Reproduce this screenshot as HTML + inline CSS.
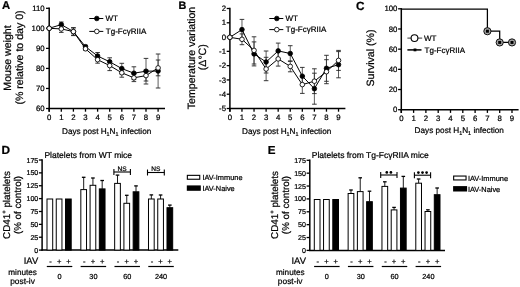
<!DOCTYPE html>
<html><head><meta charset="utf-8"><style>
html,body{margin:0;padding:0;background:#fff;}
svg{display:block;will-change:transform;filter:blur(0.3px);}
text{font-family:"Liberation Sans", sans-serif;fill:#000;stroke:#000;stroke-width:0.22px;text-rendering:geometricPrecision;}
</style></head><body>
<svg width="520" height="287" viewBox="0 0 520 287">
<rect x="0" y="0" width="520" height="287" fill="#fff"/>
<text x="2.00" y="9.00" font-size="11.3" text-anchor="start" font-weight="bold">A</text>
<text x="178.60" y="8.80" font-size="10.8" text-anchor="start" font-weight="bold">B</text>
<text x="356.00" y="9.70" font-size="11.8" text-anchor="start" font-weight="bold">C</text>
<text x="1.50" y="154.00" font-size="11.8" text-anchor="start" font-weight="bold">D</text>
<text x="267.80" y="154.00" font-size="11.6" text-anchor="start" font-weight="bold">E</text>
<line x1="49.20" y1="7.60" x2="49.20" y2="111.70" stroke="#000" stroke-width="1.5"/>
<line x1="48.50" y1="108.50" x2="165.00" y2="108.50" stroke="#000" stroke-width="1.5"/>
<line x1="46.00" y1="8.30" x2="49.20" y2="8.30" stroke="#000" stroke-width="1.3"/>
<text x="44.60" y="11.00" font-size="7.8" text-anchor="end" font-weight="normal">110</text>
<line x1="46.00" y1="28.34" x2="49.20" y2="28.34" stroke="#000" stroke-width="1.3"/>
<text x="44.60" y="31.04" font-size="7.8" text-anchor="end" font-weight="normal">100</text>
<line x1="46.00" y1="48.38" x2="49.20" y2="48.38" stroke="#000" stroke-width="1.3"/>
<text x="44.60" y="51.08" font-size="7.8" text-anchor="end" font-weight="normal">90</text>
<line x1="46.00" y1="68.42" x2="49.20" y2="68.42" stroke="#000" stroke-width="1.3"/>
<text x="44.60" y="71.12" font-size="7.8" text-anchor="end" font-weight="normal">80</text>
<line x1="46.00" y1="88.46" x2="49.20" y2="88.46" stroke="#000" stroke-width="1.3"/>
<text x="44.60" y="91.16" font-size="7.8" text-anchor="end" font-weight="normal">70</text>
<line x1="46.00" y1="108.50" x2="49.20" y2="108.50" stroke="#000" stroke-width="1.3"/>
<text x="44.60" y="111.20" font-size="7.8" text-anchor="end" font-weight="normal">60</text>
<line x1="49.20" y1="108.50" x2="49.20" y2="111.70" stroke="#000" stroke-width="1.3"/>
<text x="49.20" y="120.00" font-size="7.8" text-anchor="middle" font-weight="normal">0</text>
<line x1="61.30" y1="108.50" x2="61.30" y2="111.70" stroke="#000" stroke-width="1.3"/>
<text x="61.30" y="120.00" font-size="7.8" text-anchor="middle" font-weight="normal">1</text>
<line x1="73.40" y1="108.50" x2="73.40" y2="111.70" stroke="#000" stroke-width="1.3"/>
<text x="73.40" y="120.00" font-size="7.8" text-anchor="middle" font-weight="normal">2</text>
<line x1="85.50" y1="108.50" x2="85.50" y2="111.70" stroke="#000" stroke-width="1.3"/>
<text x="85.50" y="120.00" font-size="7.8" text-anchor="middle" font-weight="normal">3</text>
<line x1="97.60" y1="108.50" x2="97.60" y2="111.70" stroke="#000" stroke-width="1.3"/>
<text x="97.60" y="120.00" font-size="7.8" text-anchor="middle" font-weight="normal">4</text>
<line x1="109.70" y1="108.50" x2="109.70" y2="111.70" stroke="#000" stroke-width="1.3"/>
<text x="109.70" y="120.00" font-size="7.8" text-anchor="middle" font-weight="normal">5</text>
<line x1="121.80" y1="108.50" x2="121.80" y2="111.70" stroke="#000" stroke-width="1.3"/>
<text x="121.80" y="120.00" font-size="7.8" text-anchor="middle" font-weight="normal">6</text>
<line x1="133.90" y1="108.50" x2="133.90" y2="111.70" stroke="#000" stroke-width="1.3"/>
<text x="133.90" y="120.00" font-size="7.8" text-anchor="middle" font-weight="normal">7</text>
<line x1="146.00" y1="108.50" x2="146.00" y2="111.70" stroke="#000" stroke-width="1.3"/>
<text x="146.00" y="120.00" font-size="7.8" text-anchor="middle" font-weight="normal">8</text>
<line x1="158.10" y1="108.50" x2="158.10" y2="111.70" stroke="#000" stroke-width="1.3"/>
<text x="158.10" y="120.00" font-size="7.8" text-anchor="middle" font-weight="normal">9</text>
<text x="62.00" y="133.60" font-size="8.2" text-anchor="start" font-weight="normal">Days post H<tspan font-size="5.4" dy="2.0">1</tspan><tspan dy="-2.0">N</tspan><tspan font-size="5.4" dy="2.0">1</tspan><tspan dy="-2.0"> infection</tspan></text>
<text x="11.40" y="58.00" font-size="10.6" text-anchor="middle" font-weight="normal" transform="rotate(-90 11.40 58.00)">Mouse weight</text>
<text x="23.40" y="57.50" font-size="10.6" text-anchor="middle" font-weight="normal" transform="rotate(-90 23.40 57.50)">(% relative to day 0)</text>
<line x1="61.30" y1="22.00" x2="61.30" y2="27.20" stroke="#333" stroke-width="0.8"/>
<line x1="59.00" y1="22.00" x2="63.60" y2="22.00" stroke="#222" stroke-width="0.9"/>
<line x1="59.00" y1="27.20" x2="63.60" y2="27.20" stroke="#222" stroke-width="0.9"/>
<line x1="61.30" y1="25.40" x2="61.30" y2="32.40" stroke="#333" stroke-width="0.8"/>
<line x1="59.00" y1="25.40" x2="63.60" y2="25.40" stroke="#222" stroke-width="0.9"/>
<line x1="59.00" y1="32.40" x2="63.60" y2="32.40" stroke="#222" stroke-width="0.9"/>
<line x1="73.40" y1="27.60" x2="73.40" y2="35.60" stroke="#333" stroke-width="0.8"/>
<line x1="71.10" y1="27.60" x2="75.70" y2="27.60" stroke="#222" stroke-width="0.9"/>
<line x1="71.10" y1="35.60" x2="75.70" y2="35.60" stroke="#222" stroke-width="0.9"/>
<line x1="73.40" y1="28.00" x2="73.40" y2="35.20" stroke="#333" stroke-width="0.8"/>
<line x1="71.10" y1="28.00" x2="75.70" y2="28.00" stroke="#222" stroke-width="0.9"/>
<line x1="71.10" y1="35.20" x2="75.70" y2="35.20" stroke="#222" stroke-width="0.9"/>
<line x1="85.50" y1="45.20" x2="85.50" y2="48.20" stroke="#333" stroke-width="0.8"/>
<line x1="83.20" y1="45.20" x2="87.80" y2="45.20" stroke="#222" stroke-width="0.9"/>
<line x1="83.20" y1="48.20" x2="87.80" y2="48.20" stroke="#222" stroke-width="0.9"/>
<line x1="85.50" y1="47.30" x2="85.50" y2="50.30" stroke="#333" stroke-width="0.8"/>
<line x1="83.20" y1="47.30" x2="87.80" y2="47.30" stroke="#222" stroke-width="0.9"/>
<line x1="83.20" y1="50.30" x2="87.80" y2="50.30" stroke="#222" stroke-width="0.9"/>
<line x1="97.60" y1="52.50" x2="97.60" y2="59.50" stroke="#333" stroke-width="0.8"/>
<line x1="95.30" y1="52.50" x2="99.90" y2="52.50" stroke="#222" stroke-width="0.9"/>
<line x1="95.30" y1="59.50" x2="99.90" y2="59.50" stroke="#222" stroke-width="0.9"/>
<line x1="97.60" y1="56.20" x2="97.60" y2="63.20" stroke="#333" stroke-width="0.8"/>
<line x1="95.30" y1="56.20" x2="99.90" y2="56.20" stroke="#222" stroke-width="0.9"/>
<line x1="95.30" y1="63.20" x2="99.90" y2="63.20" stroke="#222" stroke-width="0.9"/>
<line x1="109.70" y1="57.80" x2="109.70" y2="65.80" stroke="#333" stroke-width="0.8"/>
<line x1="107.40" y1="57.80" x2="112.00" y2="57.80" stroke="#222" stroke-width="0.9"/>
<line x1="107.40" y1="65.80" x2="112.00" y2="65.80" stroke="#222" stroke-width="0.9"/>
<line x1="109.70" y1="60.60" x2="109.70" y2="70.60" stroke="#333" stroke-width="0.8"/>
<line x1="107.40" y1="60.60" x2="112.00" y2="60.60" stroke="#222" stroke-width="0.9"/>
<line x1="107.40" y1="70.60" x2="112.00" y2="70.60" stroke="#222" stroke-width="0.9"/>
<line x1="121.80" y1="63.30" x2="121.80" y2="73.90" stroke="#333" stroke-width="0.8"/>
<line x1="119.50" y1="63.30" x2="124.10" y2="63.30" stroke="#222" stroke-width="0.9"/>
<line x1="119.50" y1="73.90" x2="124.10" y2="73.90" stroke="#222" stroke-width="0.9"/>
<line x1="121.80" y1="68.40" x2="121.80" y2="77.20" stroke="#333" stroke-width="0.8"/>
<line x1="119.50" y1="68.40" x2="124.10" y2="68.40" stroke="#222" stroke-width="0.9"/>
<line x1="119.50" y1="77.20" x2="124.10" y2="77.20" stroke="#222" stroke-width="0.9"/>
<line x1="133.90" y1="66.80" x2="133.90" y2="79.60" stroke="#333" stroke-width="0.8"/>
<line x1="131.60" y1="66.80" x2="136.20" y2="66.80" stroke="#222" stroke-width="0.9"/>
<line x1="131.60" y1="79.60" x2="136.20" y2="79.60" stroke="#222" stroke-width="0.9"/>
<line x1="133.90" y1="74.00" x2="133.90" y2="81.60" stroke="#333" stroke-width="0.8"/>
<line x1="131.60" y1="74.00" x2="136.20" y2="74.00" stroke="#222" stroke-width="0.9"/>
<line x1="131.60" y1="81.60" x2="136.20" y2="81.60" stroke="#222" stroke-width="0.9"/>
<line x1="146.00" y1="58.40" x2="146.00" y2="84.00" stroke="#333" stroke-width="0.8"/>
<line x1="143.70" y1="58.40" x2="148.30" y2="58.40" stroke="#222" stroke-width="0.9"/>
<line x1="143.70" y1="84.00" x2="148.30" y2="84.00" stroke="#222" stroke-width="0.9"/>
<line x1="146.00" y1="70.20" x2="146.00" y2="81.00" stroke="#333" stroke-width="0.8"/>
<line x1="143.70" y1="70.20" x2="148.30" y2="70.20" stroke="#222" stroke-width="0.9"/>
<line x1="143.70" y1="81.00" x2="148.30" y2="81.00" stroke="#222" stroke-width="0.9"/>
<line x1="158.10" y1="54.00" x2="158.10" y2="88.00" stroke="#333" stroke-width="0.8"/>
<line x1="155.80" y1="54.00" x2="160.40" y2="54.00" stroke="#222" stroke-width="0.9"/>
<line x1="155.80" y1="88.00" x2="160.40" y2="88.00" stroke="#222" stroke-width="0.9"/>
<line x1="158.10" y1="60.00" x2="158.10" y2="75.80" stroke="#333" stroke-width="0.8"/>
<line x1="155.80" y1="60.00" x2="160.40" y2="60.00" stroke="#222" stroke-width="0.9"/>
<line x1="155.80" y1="75.80" x2="160.40" y2="75.80" stroke="#222" stroke-width="0.9"/>
<polyline points="49.20,28.30 61.30,24.60 73.40,31.60 85.50,46.70 97.60,56.00 109.70,61.80 121.80,68.60 133.90,73.20 146.00,71.20 158.10,71.00" fill="none" stroke="#000" stroke-width="1.0" stroke-linejoin="miter"/>
<polyline points="49.20,28.30 61.30,28.90 73.40,31.60 85.50,48.80 97.60,59.70 109.70,65.60 121.80,72.80 133.90,77.80 146.00,75.60 158.10,67.90" fill="none" stroke="#000" stroke-width="1.0" stroke-linejoin="miter"/>
<circle cx="49.20" cy="28.30" r="2.3" fill="#000" stroke="#000" stroke-width="0.8"/>
<circle cx="61.30" cy="24.60" r="2.3" fill="#000" stroke="#000" stroke-width="0.8"/>
<circle cx="73.40" cy="31.60" r="2.3" fill="#000" stroke="#000" stroke-width="0.8"/>
<circle cx="85.50" cy="46.70" r="2.3" fill="#000" stroke="#000" stroke-width="0.8"/>
<circle cx="97.60" cy="56.00" r="2.3" fill="#000" stroke="#000" stroke-width="0.8"/>
<circle cx="109.70" cy="61.80" r="2.3" fill="#000" stroke="#000" stroke-width="0.8"/>
<circle cx="121.80" cy="68.60" r="2.3" fill="#000" stroke="#000" stroke-width="0.8"/>
<circle cx="133.90" cy="73.20" r="2.3" fill="#000" stroke="#000" stroke-width="0.8"/>
<circle cx="146.00" cy="71.20" r="2.3" fill="#000" stroke="#000" stroke-width="0.8"/>
<circle cx="158.10" cy="71.00" r="2.3" fill="#000" stroke="#000" stroke-width="0.8"/>
<circle cx="49.20" cy="28.30" r="2.3" fill="#fff" stroke="#000" stroke-width="0.85"/>
<circle cx="61.30" cy="28.90" r="2.3" fill="#fff" stroke="#000" stroke-width="0.85"/>
<circle cx="73.40" cy="31.60" r="2.3" fill="#fff" stroke="#000" stroke-width="0.85"/>
<circle cx="85.50" cy="48.80" r="2.3" fill="#fff" stroke="#000" stroke-width="0.85"/>
<circle cx="97.60" cy="59.70" r="2.3" fill="#fff" stroke="#000" stroke-width="0.85"/>
<circle cx="109.70" cy="65.60" r="2.3" fill="#fff" stroke="#000" stroke-width="0.85"/>
<circle cx="121.80" cy="72.80" r="2.3" fill="#fff" stroke="#000" stroke-width="0.85"/>
<circle cx="133.90" cy="77.80" r="2.3" fill="#fff" stroke="#000" stroke-width="0.85"/>
<circle cx="146.00" cy="75.60" r="2.3" fill="#fff" stroke="#000" stroke-width="0.85"/>
<circle cx="158.10" cy="67.90" r="2.3" fill="#fff" stroke="#000" stroke-width="0.85"/>
<line x1="89.30" y1="18.50" x2="103.30" y2="18.50" stroke="#000" stroke-width="1.0"/>
<circle cx="96.80" cy="18.50" r="2.3" fill="#000" stroke="#000" stroke-width="0.8"/>
<line x1="89.30" y1="31.40" x2="103.30" y2="31.40" stroke="#000" stroke-width="1.0"/>
<circle cx="96.80" cy="31.40" r="2.3" fill="#fff" stroke="#000" stroke-width="0.85"/>
<text x="105.50" y="21.20" font-size="8.0" text-anchor="start" font-weight="normal">WT</text>
<text x="105.80" y="34.10" font-size="8.0" text-anchor="start" font-weight="normal">Tg-Fc&#947;RIIA</text>
<line x1="229.90" y1="7.80" x2="229.90" y2="111.70" stroke="#000" stroke-width="1.5"/>
<line x1="229.20" y1="108.50" x2="345.40" y2="108.50" stroke="#000" stroke-width="1.5"/>
<line x1="226.70" y1="8.50" x2="229.90" y2="8.50" stroke="#000" stroke-width="1.3"/>
<text x="226.00" y="11.10" font-size="7.8" text-anchor="end" font-weight="normal">2</text>
<line x1="226.70" y1="22.79" x2="229.90" y2="22.79" stroke="#000" stroke-width="1.3"/>
<text x="226.00" y="25.39" font-size="7.8" text-anchor="end" font-weight="normal">1</text>
<line x1="226.70" y1="37.07" x2="229.90" y2="37.07" stroke="#000" stroke-width="1.3"/>
<text x="226.00" y="39.67" font-size="7.8" text-anchor="end" font-weight="normal">0</text>
<line x1="226.70" y1="51.36" x2="229.90" y2="51.36" stroke="#000" stroke-width="1.3"/>
<text x="226.00" y="53.96" font-size="7.8" text-anchor="end" font-weight="normal">-1</text>
<line x1="226.70" y1="65.64" x2="229.90" y2="65.64" stroke="#000" stroke-width="1.3"/>
<text x="226.00" y="68.24" font-size="7.8" text-anchor="end" font-weight="normal">-2</text>
<line x1="226.70" y1="79.93" x2="229.90" y2="79.93" stroke="#000" stroke-width="1.3"/>
<text x="226.00" y="82.53" font-size="7.8" text-anchor="end" font-weight="normal">-3</text>
<line x1="226.70" y1="94.21" x2="229.90" y2="94.21" stroke="#000" stroke-width="1.3"/>
<text x="226.00" y="96.81" font-size="7.8" text-anchor="end" font-weight="normal">-4</text>
<line x1="226.70" y1="108.50" x2="229.90" y2="108.50" stroke="#000" stroke-width="1.3"/>
<text x="226.00" y="111.10" font-size="7.8" text-anchor="end" font-weight="normal">-5</text>
<line x1="229.90" y1="108.50" x2="229.90" y2="111.70" stroke="#000" stroke-width="1.3"/>
<text x="229.90" y="120.00" font-size="7.8" text-anchor="middle" font-weight="normal">0</text>
<line x1="241.97" y1="108.50" x2="241.97" y2="111.70" stroke="#000" stroke-width="1.3"/>
<text x="241.97" y="120.00" font-size="7.8" text-anchor="middle" font-weight="normal">1</text>
<line x1="254.04" y1="108.50" x2="254.04" y2="111.70" stroke="#000" stroke-width="1.3"/>
<text x="254.04" y="120.00" font-size="7.8" text-anchor="middle" font-weight="normal">2</text>
<line x1="266.11" y1="108.50" x2="266.11" y2="111.70" stroke="#000" stroke-width="1.3"/>
<text x="266.11" y="120.00" font-size="7.8" text-anchor="middle" font-weight="normal">3</text>
<line x1="278.18" y1="108.50" x2="278.18" y2="111.70" stroke="#000" stroke-width="1.3"/>
<text x="278.18" y="120.00" font-size="7.8" text-anchor="middle" font-weight="normal">4</text>
<line x1="290.25" y1="108.50" x2="290.25" y2="111.70" stroke="#000" stroke-width="1.3"/>
<text x="290.25" y="120.00" font-size="7.8" text-anchor="middle" font-weight="normal">5</text>
<line x1="302.32" y1="108.50" x2="302.32" y2="111.70" stroke="#000" stroke-width="1.3"/>
<text x="302.32" y="120.00" font-size="7.8" text-anchor="middle" font-weight="normal">6</text>
<line x1="314.39" y1="108.50" x2="314.39" y2="111.70" stroke="#000" stroke-width="1.3"/>
<text x="314.39" y="120.00" font-size="7.8" text-anchor="middle" font-weight="normal">7</text>
<line x1="326.46" y1="108.50" x2="326.46" y2="111.70" stroke="#000" stroke-width="1.3"/>
<text x="326.46" y="120.00" font-size="7.8" text-anchor="middle" font-weight="normal">8</text>
<line x1="338.53" y1="108.50" x2="338.53" y2="111.70" stroke="#000" stroke-width="1.3"/>
<text x="338.53" y="120.00" font-size="7.8" text-anchor="middle" font-weight="normal">9</text>
<text x="242.00" y="133.60" font-size="8.2" text-anchor="start" font-weight="normal">Days post H<tspan font-size="5.4" dy="2.0">1</tspan><tspan dy="-2.0">N</tspan><tspan font-size="5.4" dy="2.0">1</tspan><tspan dy="-2.0"> infection</tspan></text>
<text x="194.70" y="58.00" font-size="10.6" text-anchor="middle" font-weight="normal" transform="rotate(-90 194.70 58.00)">Temperature variation</text>
<text x="206.00" y="57.20" font-size="10.6" text-anchor="middle" font-weight="normal" transform="rotate(-90 206.00 57.20)">(&#916;°C)</text>
<line x1="241.97" y1="19.40" x2="241.97" y2="39.80" stroke="#333" stroke-width="0.8"/>
<line x1="239.67" y1="19.40" x2="244.27" y2="19.40" stroke="#222" stroke-width="0.9"/>
<line x1="239.67" y1="39.80" x2="244.27" y2="39.80" stroke="#222" stroke-width="0.9"/>
<line x1="241.97" y1="33.90" x2="241.97" y2="44.70" stroke="#333" stroke-width="0.8"/>
<line x1="239.67" y1="33.90" x2="244.27" y2="33.90" stroke="#222" stroke-width="0.9"/>
<line x1="239.67" y1="44.70" x2="244.27" y2="44.70" stroke="#222" stroke-width="0.9"/>
<line x1="254.04" y1="41.90" x2="254.04" y2="65.90" stroke="#333" stroke-width="0.8"/>
<line x1="251.74" y1="41.90" x2="256.34" y2="41.90" stroke="#222" stroke-width="0.9"/>
<line x1="251.74" y1="65.90" x2="256.34" y2="65.90" stroke="#222" stroke-width="0.9"/>
<line x1="254.04" y1="36.80" x2="254.04" y2="64.00" stroke="#333" stroke-width="0.8"/>
<line x1="251.74" y1="36.80" x2="256.34" y2="36.80" stroke="#222" stroke-width="0.9"/>
<line x1="251.74" y1="64.00" x2="256.34" y2="64.00" stroke="#222" stroke-width="0.9"/>
<line x1="266.11" y1="51.00" x2="266.11" y2="73.00" stroke="#333" stroke-width="0.8"/>
<line x1="263.81" y1="51.00" x2="268.41" y2="51.00" stroke="#222" stroke-width="0.9"/>
<line x1="263.81" y1="73.00" x2="268.41" y2="73.00" stroke="#222" stroke-width="0.9"/>
<line x1="266.11" y1="57.30" x2="266.11" y2="80.70" stroke="#333" stroke-width="0.8"/>
<line x1="263.81" y1="57.30" x2="268.41" y2="57.30" stroke="#222" stroke-width="0.9"/>
<line x1="263.81" y1="80.70" x2="268.41" y2="80.70" stroke="#222" stroke-width="0.9"/>
<line x1="278.18" y1="43.10" x2="278.18" y2="58.70" stroke="#333" stroke-width="0.8"/>
<line x1="275.88" y1="43.10" x2="280.48" y2="43.10" stroke="#222" stroke-width="0.9"/>
<line x1="275.88" y1="58.70" x2="280.48" y2="58.70" stroke="#222" stroke-width="0.9"/>
<line x1="278.18" y1="51.70" x2="278.18" y2="66.10" stroke="#333" stroke-width="0.8"/>
<line x1="275.88" y1="51.70" x2="280.48" y2="51.70" stroke="#222" stroke-width="0.9"/>
<line x1="275.88" y1="66.10" x2="280.48" y2="66.10" stroke="#222" stroke-width="0.9"/>
<line x1="290.25" y1="45.70" x2="290.25" y2="61.30" stroke="#333" stroke-width="0.8"/>
<line x1="287.95" y1="45.70" x2="292.55" y2="45.70" stroke="#222" stroke-width="0.9"/>
<line x1="287.95" y1="61.30" x2="292.55" y2="61.30" stroke="#222" stroke-width="0.9"/>
<line x1="290.25" y1="61.00" x2="290.25" y2="71.80" stroke="#333" stroke-width="0.8"/>
<line x1="287.95" y1="61.00" x2="292.55" y2="61.00" stroke="#222" stroke-width="0.9"/>
<line x1="287.95" y1="71.80" x2="292.55" y2="71.80" stroke="#222" stroke-width="0.9"/>
<line x1="302.32" y1="67.40" x2="302.32" y2="85.00" stroke="#333" stroke-width="0.8"/>
<line x1="300.02" y1="67.40" x2="304.62" y2="67.40" stroke="#222" stroke-width="0.9"/>
<line x1="300.02" y1="85.00" x2="304.62" y2="85.00" stroke="#222" stroke-width="0.9"/>
<line x1="302.32" y1="75.80" x2="302.32" y2="93.40" stroke="#333" stroke-width="0.8"/>
<line x1="300.02" y1="75.80" x2="304.62" y2="75.80" stroke="#222" stroke-width="0.9"/>
<line x1="300.02" y1="93.40" x2="304.62" y2="93.40" stroke="#222" stroke-width="0.9"/>
<line x1="314.39" y1="73.20" x2="314.39" y2="104.20" stroke="#333" stroke-width="0.8"/>
<line x1="312.09" y1="73.20" x2="316.69" y2="73.20" stroke="#222" stroke-width="0.9"/>
<line x1="312.09" y1="104.20" x2="316.69" y2="104.20" stroke="#222" stroke-width="0.9"/>
<line x1="314.39" y1="68.80" x2="314.39" y2="93.60" stroke="#333" stroke-width="0.8"/>
<line x1="312.09" y1="68.80" x2="316.69" y2="68.80" stroke="#222" stroke-width="0.9"/>
<line x1="312.09" y1="93.60" x2="316.69" y2="93.60" stroke="#222" stroke-width="0.9"/>
<line x1="326.46" y1="55.30" x2="326.46" y2="81.30" stroke="#333" stroke-width="0.8"/>
<line x1="324.16" y1="55.30" x2="328.76" y2="55.30" stroke="#222" stroke-width="0.9"/>
<line x1="324.16" y1="81.30" x2="328.76" y2="81.30" stroke="#222" stroke-width="0.9"/>
<line x1="326.46" y1="59.70" x2="326.46" y2="83.70" stroke="#333" stroke-width="0.8"/>
<line x1="324.16" y1="59.70" x2="328.76" y2="59.70" stroke="#222" stroke-width="0.9"/>
<line x1="324.16" y1="83.70" x2="328.76" y2="83.70" stroke="#222" stroke-width="0.9"/>
<line x1="338.53" y1="51.60" x2="338.53" y2="77.80" stroke="#333" stroke-width="0.8"/>
<line x1="336.23" y1="51.60" x2="340.83" y2="51.60" stroke="#222" stroke-width="0.9"/>
<line x1="336.23" y1="77.80" x2="340.83" y2="77.80" stroke="#222" stroke-width="0.9"/>
<line x1="338.53" y1="50.40" x2="338.53" y2="70.40" stroke="#333" stroke-width="0.8"/>
<line x1="336.23" y1="50.40" x2="340.83" y2="50.40" stroke="#222" stroke-width="0.9"/>
<line x1="336.23" y1="70.40" x2="340.83" y2="70.40" stroke="#222" stroke-width="0.9"/>
<polyline points="229.90,37.30 241.97,29.60 254.04,53.90 266.11,62.00 278.18,50.90 290.25,53.50 302.32,76.20 314.39,88.70 326.46,68.30 338.53,64.70" fill="none" stroke="#000" stroke-width="1.0" stroke-linejoin="miter"/>
<polyline points="229.90,37.30 241.97,39.30 254.04,50.40 266.11,69.00 278.18,58.90 290.25,66.40 302.32,84.60 314.39,81.20 326.46,71.70 338.53,60.40" fill="none" stroke="#000" stroke-width="1.0" stroke-linejoin="miter"/>
<circle cx="229.90" cy="37.30" r="2.3" fill="#000" stroke="#000" stroke-width="0.8"/>
<circle cx="241.97" cy="29.60" r="2.3" fill="#000" stroke="#000" stroke-width="0.8"/>
<circle cx="254.04" cy="53.90" r="2.3" fill="#000" stroke="#000" stroke-width="0.8"/>
<circle cx="266.11" cy="62.00" r="2.3" fill="#000" stroke="#000" stroke-width="0.8"/>
<circle cx="278.18" cy="50.90" r="2.3" fill="#000" stroke="#000" stroke-width="0.8"/>
<circle cx="290.25" cy="53.50" r="2.3" fill="#000" stroke="#000" stroke-width="0.8"/>
<circle cx="302.32" cy="76.20" r="2.3" fill="#000" stroke="#000" stroke-width="0.8"/>
<circle cx="314.39" cy="88.70" r="2.3" fill="#000" stroke="#000" stroke-width="0.8"/>
<circle cx="326.46" cy="68.30" r="2.3" fill="#000" stroke="#000" stroke-width="0.8"/>
<circle cx="338.53" cy="64.70" r="2.3" fill="#000" stroke="#000" stroke-width="0.8"/>
<circle cx="229.90" cy="37.30" r="2.3" fill="#fff" stroke="#000" stroke-width="0.85"/>
<circle cx="241.97" cy="39.30" r="2.3" fill="#fff" stroke="#000" stroke-width="0.85"/>
<circle cx="254.04" cy="50.40" r="2.3" fill="#fff" stroke="#000" stroke-width="0.85"/>
<circle cx="266.11" cy="69.00" r="2.3" fill="#fff" stroke="#000" stroke-width="0.85"/>
<circle cx="278.18" cy="58.90" r="2.3" fill="#fff" stroke="#000" stroke-width="0.85"/>
<circle cx="290.25" cy="66.40" r="2.3" fill="#fff" stroke="#000" stroke-width="0.85"/>
<circle cx="302.32" cy="84.60" r="2.3" fill="#fff" stroke="#000" stroke-width="0.85"/>
<circle cx="314.39" cy="81.20" r="2.3" fill="#fff" stroke="#000" stroke-width="0.85"/>
<circle cx="326.46" cy="71.70" r="2.3" fill="#fff" stroke="#000" stroke-width="0.85"/>
<circle cx="338.53" cy="60.40" r="2.3" fill="#fff" stroke="#000" stroke-width="0.85"/>
<line x1="269.30" y1="18.50" x2="283.30" y2="18.50" stroke="#000" stroke-width="1.0"/>
<circle cx="276.80" cy="18.50" r="2.3" fill="#000" stroke="#000" stroke-width="0.8"/>
<line x1="269.30" y1="29.60" x2="283.30" y2="29.60" stroke="#000" stroke-width="1.0"/>
<circle cx="276.80" cy="29.60" r="2.3" fill="#fff" stroke="#000" stroke-width="0.85"/>
<text x="285.50" y="21.20" font-size="8.0" text-anchor="start" font-weight="normal">WT</text>
<text x="285.80" y="32.30" font-size="8.0" text-anchor="start" font-weight="normal">Tg-Fc&#947;RIIA</text>
<line x1="401.30" y1="8.10" x2="401.30" y2="112.90" stroke="#000" stroke-width="1.5"/>
<line x1="400.60" y1="109.70" x2="518.60" y2="109.70" stroke="#000" stroke-width="1.5"/>
<line x1="398.10" y1="8.80" x2="401.30" y2="8.80" stroke="#000" stroke-width="1.3"/>
<text x="397.40" y="11.40" font-size="7.8" text-anchor="end" font-weight="normal">100</text>
<line x1="398.10" y1="28.98" x2="401.30" y2="28.98" stroke="#000" stroke-width="1.3"/>
<text x="397.40" y="31.58" font-size="7.8" text-anchor="end" font-weight="normal">80</text>
<line x1="398.10" y1="49.16" x2="401.30" y2="49.16" stroke="#000" stroke-width="1.3"/>
<text x="397.40" y="51.76" font-size="7.8" text-anchor="end" font-weight="normal">60</text>
<line x1="398.10" y1="69.34" x2="401.30" y2="69.34" stroke="#000" stroke-width="1.3"/>
<text x="397.40" y="71.94" font-size="7.8" text-anchor="end" font-weight="normal">40</text>
<line x1="398.10" y1="89.52" x2="401.30" y2="89.52" stroke="#000" stroke-width="1.3"/>
<text x="397.40" y="92.12" font-size="7.8" text-anchor="end" font-weight="normal">20</text>
<line x1="398.10" y1="109.70" x2="401.30" y2="109.70" stroke="#000" stroke-width="1.3"/>
<text x="397.40" y="112.30" font-size="7.8" text-anchor="end" font-weight="normal">0</text>
<line x1="401.30" y1="109.70" x2="401.30" y2="112.90" stroke="#000" stroke-width="1.3"/>
<text x="401.30" y="121.20" font-size="7.8" text-anchor="middle" font-weight="normal">0</text>
<line x1="413.60" y1="109.70" x2="413.60" y2="112.90" stroke="#000" stroke-width="1.3"/>
<text x="413.60" y="121.20" font-size="7.8" text-anchor="middle" font-weight="normal">1</text>
<line x1="425.90" y1="109.70" x2="425.90" y2="112.90" stroke="#000" stroke-width="1.3"/>
<text x="425.90" y="121.20" font-size="7.8" text-anchor="middle" font-weight="normal">2</text>
<line x1="438.20" y1="109.70" x2="438.20" y2="112.90" stroke="#000" stroke-width="1.3"/>
<text x="438.20" y="121.20" font-size="7.8" text-anchor="middle" font-weight="normal">3</text>
<line x1="450.50" y1="109.70" x2="450.50" y2="112.90" stroke="#000" stroke-width="1.3"/>
<text x="450.50" y="121.20" font-size="7.8" text-anchor="middle" font-weight="normal">4</text>
<line x1="462.80" y1="109.70" x2="462.80" y2="112.90" stroke="#000" stroke-width="1.3"/>
<text x="462.80" y="121.20" font-size="7.8" text-anchor="middle" font-weight="normal">5</text>
<line x1="475.10" y1="109.70" x2="475.10" y2="112.90" stroke="#000" stroke-width="1.3"/>
<text x="475.10" y="121.20" font-size="7.8" text-anchor="middle" font-weight="normal">6</text>
<line x1="487.40" y1="109.70" x2="487.40" y2="112.90" stroke="#000" stroke-width="1.3"/>
<text x="487.40" y="121.20" font-size="7.8" text-anchor="middle" font-weight="normal">7</text>
<line x1="499.70" y1="109.70" x2="499.70" y2="112.90" stroke="#000" stroke-width="1.3"/>
<text x="499.70" y="121.20" font-size="7.8" text-anchor="middle" font-weight="normal">8</text>
<line x1="512.00" y1="109.70" x2="512.00" y2="112.90" stroke="#000" stroke-width="1.3"/>
<text x="512.00" y="121.20" font-size="7.8" text-anchor="middle" font-weight="normal">9</text>
<text x="414.60" y="133.30" font-size="8.2" text-anchor="start" font-weight="normal">Days post H<tspan font-size="5.4" dy="2.0">1</tspan><tspan dy="-2.0">N</tspan><tspan font-size="5.4" dy="2.0">1</tspan><tspan dy="-2.0"> infection</tspan></text>
<text x="374.20" y="58.00" font-size="10.6" text-anchor="middle" font-weight="normal" transform="rotate(-90 374.20 58.00)">Survival (%)</text>
<polyline points="401.30,9.10 487.40,9.10 487.40,31.22 499.70,31.22 499.70,42.43 512.00,42.43" fill="none" stroke="#000" stroke-width="1.25" stroke-linejoin="miter"/>
<circle cx="487.40" cy="31.22" r="3.6" fill="#a5a5a5" stroke="#000" stroke-width="0.9"/>
<rect x="485.90" y="29.72" width="3.00" height="3.00" fill="#000" stroke="#000" stroke-width="0"/>
<circle cx="499.70" cy="42.43" r="3.6" fill="#a5a5a5" stroke="#000" stroke-width="0.9"/>
<rect x="498.20" y="40.93" width="3.00" height="3.00" fill="#000" stroke="#000" stroke-width="0"/>
<circle cx="512.00" cy="42.43" r="3.6" fill="#a5a5a5" stroke="#000" stroke-width="0.9"/>
<rect x="510.50" y="40.93" width="3.00" height="3.00" fill="#000" stroke="#000" stroke-width="0"/>
<line x1="407.40" y1="38.10" x2="422.20" y2="38.10" stroke="#000" stroke-width="0.8"/>
<circle cx="414.50" cy="38.10" r="3.4" fill="#fff" stroke="#000" stroke-width="1.1"/>
<text x="424.00" y="41.00" font-size="8.0" text-anchor="start" font-weight="normal">WT</text>
<line x1="407.40" y1="49.90" x2="421.50" y2="49.90" stroke="#000" stroke-width="1.5"/>
<rect x="413.60" y="48.50" width="2.80" height="2.80" fill="#000" stroke="#000" stroke-width="0"/>
<text x="424.60" y="52.70" font-size="8.0" text-anchor="start" font-weight="normal">Tg-Fc&#947;RIIA</text>
<line x1="42.10" y1="159.30" x2="42.10" y2="250.80" stroke="#000" stroke-width="1.5"/>
<line x1="41.40" y1="250.10" x2="178.30" y2="250.10" stroke="#000" stroke-width="1.5"/>
<line x1="38.90" y1="250.10" x2="42.10" y2="250.10" stroke="#000" stroke-width="1.3"/>
<text x="38.30" y="252.60" font-size="7.1" text-anchor="end" font-weight="normal">0</text>
<line x1="38.90" y1="237.23" x2="42.10" y2="237.23" stroke="#000" stroke-width="1.3"/>
<text x="38.30" y="239.73" font-size="7.1" text-anchor="end" font-weight="normal">25</text>
<line x1="38.90" y1="224.36" x2="42.10" y2="224.36" stroke="#000" stroke-width="1.3"/>
<text x="38.30" y="226.86" font-size="7.1" text-anchor="end" font-weight="normal">50</text>
<line x1="38.90" y1="211.49" x2="42.10" y2="211.49" stroke="#000" stroke-width="1.3"/>
<text x="38.30" y="213.99" font-size="7.1" text-anchor="end" font-weight="normal">75</text>
<line x1="38.90" y1="198.61" x2="42.10" y2="198.61" stroke="#000" stroke-width="1.3"/>
<text x="38.30" y="201.11" font-size="7.1" text-anchor="end" font-weight="normal">100</text>
<line x1="38.90" y1="185.74" x2="42.10" y2="185.74" stroke="#000" stroke-width="1.3"/>
<text x="38.30" y="188.24" font-size="7.1" text-anchor="end" font-weight="normal">125</text>
<line x1="38.90" y1="172.87" x2="42.10" y2="172.87" stroke="#000" stroke-width="1.3"/>
<text x="38.30" y="175.37" font-size="7.1" text-anchor="end" font-weight="normal">150</text>
<line x1="38.90" y1="160.00" x2="42.10" y2="160.00" stroke="#000" stroke-width="1.3"/>
<text x="38.30" y="162.50" font-size="7.1" text-anchor="end" font-weight="normal">175</text>
<text x="44.40" y="157.70" font-size="8.5" text-anchor="start" font-weight="normal">Platelets from WT mice</text>
<rect x="47.00" y="199.00" width="5.70" height="51.10" fill="#fff" stroke="#000" stroke-width="1.0"/>
<text x="50.45" y="264.00" font-size="7.5" text-anchor="middle" font-weight="normal">-</text>
<rect x="56.25" y="199.00" width="5.70" height="51.10" fill="#fff" stroke="#000" stroke-width="1.0"/>
<text x="59.10" y="263.80" font-size="7.6" text-anchor="middle" font-weight="normal">+</text>
<rect x="65.50" y="199.00" width="5.70" height="51.10" fill="#000" stroke="#000" stroke-width="1.0"/>
<text x="68.35" y="263.80" font-size="7.6" text-anchor="middle" font-weight="normal">+</text>
<line x1="46.80" y1="266.50" x2="72.30" y2="266.50" stroke="#000" stroke-width="1.2"/>
<text x="59.60" y="279.30" font-size="7.3" text-anchor="middle" font-weight="normal">0</text>
<line x1="83.68" y1="177.30" x2="83.68" y2="189.60" stroke="#000" stroke-width="0.9"/>
<line x1="81.88" y1="177.30" x2="85.48" y2="177.30" stroke="#000" stroke-width="1.3"/>
<rect x="80.83" y="189.60" width="5.70" height="60.50" fill="#fff" stroke="#000" stroke-width="1.0"/>
<text x="84.28" y="264.00" font-size="7.5" text-anchor="middle" font-weight="normal">-</text>
<line x1="92.93" y1="178.00" x2="92.93" y2="185.30" stroke="#000" stroke-width="0.9"/>
<line x1="91.13" y1="178.00" x2="94.73" y2="178.00" stroke="#000" stroke-width="1.3"/>
<rect x="90.08" y="185.30" width="5.70" height="64.80" fill="#fff" stroke="#000" stroke-width="1.0"/>
<text x="92.93" y="263.80" font-size="7.6" text-anchor="middle" font-weight="normal">+</text>
<line x1="102.18" y1="180.50" x2="102.18" y2="188.90" stroke="#000" stroke-width="0.9"/>
<line x1="100.38" y1="180.50" x2="103.98" y2="180.50" stroke="#000" stroke-width="1.3"/>
<rect x="99.33" y="188.90" width="5.70" height="61.20" fill="#000" stroke="#000" stroke-width="1.0"/>
<text x="102.18" y="263.80" font-size="7.6" text-anchor="middle" font-weight="normal">+</text>
<line x1="80.63" y1="266.50" x2="106.13" y2="266.50" stroke="#000" stroke-width="1.2"/>
<text x="93.43" y="279.30" font-size="7.3" text-anchor="middle" font-weight="normal">30</text>
<line x1="117.51" y1="175.10" x2="117.51" y2="183.40" stroke="#000" stroke-width="0.9"/>
<line x1="115.71" y1="175.10" x2="119.31" y2="175.10" stroke="#000" stroke-width="1.3"/>
<rect x="114.66" y="183.40" width="5.70" height="66.70" fill="#fff" stroke="#000" stroke-width="1.0"/>
<text x="118.11" y="264.00" font-size="7.5" text-anchor="middle" font-weight="normal">-</text>
<line x1="126.76" y1="195.30" x2="126.76" y2="203.30" stroke="#000" stroke-width="0.9"/>
<line x1="124.96" y1="195.30" x2="128.56" y2="195.30" stroke="#000" stroke-width="1.3"/>
<rect x="123.91" y="203.30" width="5.70" height="46.80" fill="#fff" stroke="#000" stroke-width="1.0"/>
<text x="126.76" y="263.80" font-size="7.6" text-anchor="middle" font-weight="normal">+</text>
<line x1="136.01" y1="185.90" x2="136.01" y2="191.80" stroke="#000" stroke-width="0.9"/>
<line x1="134.21" y1="185.90" x2="137.81" y2="185.90" stroke="#000" stroke-width="1.3"/>
<rect x="133.16" y="191.80" width="5.70" height="58.30" fill="#000" stroke="#000" stroke-width="1.0"/>
<text x="136.01" y="263.80" font-size="7.6" text-anchor="middle" font-weight="normal">+</text>
<line x1="114.46" y1="266.50" x2="139.96" y2="266.50" stroke="#000" stroke-width="1.2"/>
<text x="127.26" y="279.30" font-size="7.3" text-anchor="middle" font-weight="normal">60</text>
<line x1="151.34" y1="194.90" x2="151.34" y2="199.00" stroke="#000" stroke-width="0.9"/>
<line x1="149.54" y1="194.90" x2="153.14" y2="194.90" stroke="#000" stroke-width="1.3"/>
<rect x="148.49" y="199.00" width="5.70" height="51.10" fill="#fff" stroke="#000" stroke-width="1.0"/>
<text x="151.94" y="264.00" font-size="7.5" text-anchor="middle" font-weight="normal">-</text>
<line x1="160.59" y1="195.00" x2="160.59" y2="199.00" stroke="#000" stroke-width="0.9"/>
<line x1="158.79" y1="195.00" x2="162.39" y2="195.00" stroke="#000" stroke-width="1.3"/>
<rect x="157.74" y="199.00" width="5.70" height="51.10" fill="#fff" stroke="#000" stroke-width="1.0"/>
<text x="160.59" y="263.80" font-size="7.6" text-anchor="middle" font-weight="normal">+</text>
<line x1="169.84" y1="205.10" x2="169.84" y2="207.70" stroke="#000" stroke-width="0.9"/>
<line x1="168.04" y1="205.10" x2="171.64" y2="205.10" stroke="#000" stroke-width="1.3"/>
<rect x="166.99" y="207.70" width="5.70" height="42.40" fill="#000" stroke="#000" stroke-width="1.0"/>
<text x="169.84" y="263.80" font-size="7.6" text-anchor="middle" font-weight="normal">+</text>
<line x1="148.29" y1="266.50" x2="173.79" y2="266.50" stroke="#000" stroke-width="1.2"/>
<text x="161.09" y="279.30" font-size="7.3" text-anchor="middle" font-weight="normal">240</text>
<text x="38.20" y="263.60" font-size="9.4" text-anchor="end" font-weight="normal">IAV</text>
<text x="22.60" y="274.60" font-size="8.2" text-anchor="middle" font-weight="normal">minutes</text>
<text x="22.50" y="283.60" font-size="8.4" text-anchor="middle" font-weight="normal">post-iv</text>
<text x="9.80" y="205.00" font-size="9.8" text-anchor="middle" font-weight="normal" transform="rotate(-90 9.80 205.00)">CD41<tspan font-size="6" dy="-3.5">+</tspan><tspan dy="3.5"> platelets</tspan></text>
<text x="21.20" y="205.00" font-size="9.8" text-anchor="middle" font-weight="normal" transform="rotate(-90 21.20 205.00)">(% of control)</text>
<line x1="113.90" y1="172.00" x2="130.40" y2="172.00" stroke="#000" stroke-width="1.1"/>
<line x1="113.90" y1="169.00" x2="113.90" y2="175.00" stroke="#000" stroke-width="1.1"/>
<line x1="130.40" y1="169.00" x2="130.40" y2="175.00" stroke="#000" stroke-width="1.1"/>
<text x="122.15" y="170.50" font-size="6.6" text-anchor="middle" font-weight="normal">NS</text>
<line x1="147.50" y1="172.50" x2="164.30" y2="172.50" stroke="#000" stroke-width="1.1"/>
<line x1="147.50" y1="169.50" x2="147.50" y2="175.50" stroke="#000" stroke-width="1.1"/>
<line x1="164.30" y1="169.50" x2="164.30" y2="175.50" stroke="#000" stroke-width="1.1"/>
<text x="155.90" y="171.00" font-size="6.6" text-anchor="middle" font-weight="normal">NS</text>
<rect x="187.35" y="175.35" width="12.40" height="3.90" fill="#fff" stroke="#000" stroke-width="1.1"/>
<rect x="186.80" y="185.40" width="14.00" height="5.40" fill="#000" stroke="#000" stroke-width="0"/>
<text x="202.40" y="180.10" font-size="7.4" text-anchor="start" font-weight="normal">IAV-Immune</text>
<text x="202.40" y="190.80" font-size="7.4" text-anchor="start" font-weight="normal">IAV-Naive</text>
<line x1="309.80" y1="159.60" x2="309.80" y2="251.10" stroke="#000" stroke-width="1.5"/>
<line x1="309.10" y1="250.40" x2="445.00" y2="250.40" stroke="#000" stroke-width="1.5"/>
<line x1="306.60" y1="250.40" x2="309.80" y2="250.40" stroke="#000" stroke-width="1.3"/>
<text x="306.00" y="252.90" font-size="7.1" text-anchor="end" font-weight="normal">0</text>
<line x1="306.60" y1="237.53" x2="309.80" y2="237.53" stroke="#000" stroke-width="1.3"/>
<text x="306.00" y="240.03" font-size="7.1" text-anchor="end" font-weight="normal">25</text>
<line x1="306.60" y1="224.66" x2="309.80" y2="224.66" stroke="#000" stroke-width="1.3"/>
<text x="306.00" y="227.16" font-size="7.1" text-anchor="end" font-weight="normal">50</text>
<line x1="306.60" y1="211.79" x2="309.80" y2="211.79" stroke="#000" stroke-width="1.3"/>
<text x="306.00" y="214.29" font-size="7.1" text-anchor="end" font-weight="normal">75</text>
<line x1="306.60" y1="198.91" x2="309.80" y2="198.91" stroke="#000" stroke-width="1.3"/>
<text x="306.00" y="201.41" font-size="7.1" text-anchor="end" font-weight="normal">100</text>
<line x1="306.60" y1="186.04" x2="309.80" y2="186.04" stroke="#000" stroke-width="1.3"/>
<text x="306.00" y="188.54" font-size="7.1" text-anchor="end" font-weight="normal">125</text>
<line x1="306.60" y1="173.17" x2="309.80" y2="173.17" stroke="#000" stroke-width="1.3"/>
<text x="306.00" y="175.67" font-size="7.1" text-anchor="end" font-weight="normal">150</text>
<line x1="306.60" y1="160.30" x2="309.80" y2="160.30" stroke="#000" stroke-width="1.3"/>
<text x="306.00" y="162.80" font-size="7.1" text-anchor="end" font-weight="normal">175</text>
<text x="311.80" y="158.00" font-size="8.5" text-anchor="start" font-weight="normal">Platelets from Tg-Fc&#947;RIIA mice</text>
<rect x="314.30" y="199.50" width="5.70" height="50.90" fill="#fff" stroke="#000" stroke-width="1.0"/>
<text x="317.75" y="264.00" font-size="7.5" text-anchor="middle" font-weight="normal">-</text>
<rect x="323.55" y="199.50" width="5.70" height="50.90" fill="#fff" stroke="#000" stroke-width="1.0"/>
<text x="326.40" y="263.80" font-size="7.6" text-anchor="middle" font-weight="normal">+</text>
<rect x="332.80" y="199.50" width="5.70" height="50.90" fill="#000" stroke="#000" stroke-width="1.0"/>
<text x="335.65" y="263.80" font-size="7.6" text-anchor="middle" font-weight="normal">+</text>
<line x1="314.10" y1="266.50" x2="339.60" y2="266.50" stroke="#000" stroke-width="1.2"/>
<text x="326.90" y="279.30" font-size="7.3" text-anchor="middle" font-weight="normal">0</text>
<line x1="350.98" y1="190.00" x2="350.98" y2="193.50" stroke="#000" stroke-width="0.9"/>
<line x1="349.18" y1="190.00" x2="352.78" y2="190.00" stroke="#000" stroke-width="1.3"/>
<rect x="348.13" y="193.50" width="5.70" height="56.90" fill="#fff" stroke="#000" stroke-width="1.0"/>
<text x="351.58" y="264.00" font-size="7.5" text-anchor="middle" font-weight="normal">-</text>
<line x1="360.23" y1="177.80" x2="360.23" y2="191.60" stroke="#000" stroke-width="0.9"/>
<line x1="358.43" y1="177.80" x2="362.03" y2="177.80" stroke="#000" stroke-width="1.3"/>
<rect x="357.38" y="191.60" width="5.70" height="58.80" fill="#fff" stroke="#000" stroke-width="1.0"/>
<text x="360.23" y="263.80" font-size="7.6" text-anchor="middle" font-weight="normal">+</text>
<line x1="369.48" y1="191.20" x2="369.48" y2="201.70" stroke="#000" stroke-width="0.9"/>
<line x1="367.68" y1="191.20" x2="371.28" y2="191.20" stroke="#000" stroke-width="1.3"/>
<rect x="366.63" y="201.70" width="5.70" height="48.70" fill="#000" stroke="#000" stroke-width="1.0"/>
<text x="369.48" y="263.80" font-size="7.6" text-anchor="middle" font-weight="normal">+</text>
<line x1="347.93" y1="266.50" x2="373.43" y2="266.50" stroke="#000" stroke-width="1.2"/>
<text x="360.73" y="279.30" font-size="7.3" text-anchor="middle" font-weight="normal">30</text>
<line x1="384.81" y1="181.80" x2="384.81" y2="186.40" stroke="#000" stroke-width="0.9"/>
<line x1="383.01" y1="181.80" x2="386.61" y2="181.80" stroke="#000" stroke-width="1.3"/>
<rect x="381.96" y="186.40" width="5.70" height="64.00" fill="#fff" stroke="#000" stroke-width="1.0"/>
<text x="385.41" y="264.00" font-size="7.5" text-anchor="middle" font-weight="normal">-</text>
<line x1="394.06" y1="207.40" x2="394.06" y2="209.90" stroke="#000" stroke-width="0.9"/>
<line x1="392.26" y1="207.40" x2="395.86" y2="207.40" stroke="#000" stroke-width="1.3"/>
<rect x="391.21" y="209.90" width="5.70" height="40.50" fill="#fff" stroke="#000" stroke-width="1.0"/>
<text x="394.06" y="263.80" font-size="7.6" text-anchor="middle" font-weight="normal">+</text>
<line x1="403.31" y1="176.40" x2="403.31" y2="188.10" stroke="#000" stroke-width="0.9"/>
<line x1="401.51" y1="176.40" x2="405.11" y2="176.40" stroke="#000" stroke-width="1.3"/>
<rect x="400.46" y="188.10" width="5.70" height="62.30" fill="#000" stroke="#000" stroke-width="1.0"/>
<text x="403.31" y="263.80" font-size="7.6" text-anchor="middle" font-weight="normal">+</text>
<line x1="381.76" y1="266.50" x2="407.26" y2="266.50" stroke="#000" stroke-width="1.2"/>
<text x="394.56" y="279.30" font-size="7.3" text-anchor="middle" font-weight="normal">60</text>
<line x1="418.64" y1="179.00" x2="418.64" y2="183.20" stroke="#000" stroke-width="0.9"/>
<line x1="416.84" y1="179.00" x2="420.44" y2="179.00" stroke="#000" stroke-width="1.3"/>
<rect x="415.79" y="183.20" width="5.70" height="67.20" fill="#fff" stroke="#000" stroke-width="1.0"/>
<text x="419.24" y="264.00" font-size="7.5" text-anchor="middle" font-weight="normal">-</text>
<line x1="427.89" y1="209.80" x2="427.89" y2="211.50" stroke="#000" stroke-width="0.9"/>
<line x1="426.09" y1="209.80" x2="429.69" y2="209.80" stroke="#000" stroke-width="1.3"/>
<rect x="425.04" y="211.50" width="5.70" height="38.90" fill="#fff" stroke="#000" stroke-width="1.0"/>
<text x="427.89" y="263.80" font-size="7.6" text-anchor="middle" font-weight="normal">+</text>
<line x1="437.14" y1="188.00" x2="437.14" y2="194.70" stroke="#000" stroke-width="0.9"/>
<line x1="435.34" y1="188.00" x2="438.94" y2="188.00" stroke="#000" stroke-width="1.3"/>
<rect x="434.29" y="194.70" width="5.70" height="55.70" fill="#000" stroke="#000" stroke-width="1.0"/>
<text x="437.14" y="263.80" font-size="7.6" text-anchor="middle" font-weight="normal">+</text>
<line x1="415.59" y1="266.50" x2="441.09" y2="266.50" stroke="#000" stroke-width="1.2"/>
<text x="428.39" y="279.30" font-size="7.3" text-anchor="middle" font-weight="normal">240</text>
<text x="305.90" y="263.60" font-size="9.4" text-anchor="end" font-weight="normal">IAV</text>
<text x="290.30" y="274.60" font-size="8.2" text-anchor="middle" font-weight="normal">minutes</text>
<text x="290.20" y="283.60" font-size="8.4" text-anchor="middle" font-weight="normal">post-iv</text>
<text x="277.50" y="205.00" font-size="9.8" text-anchor="middle" font-weight="normal" transform="rotate(-90 277.50 205.00)">CD41<tspan font-size="6" dy="-3.5">+</tspan><tspan dy="3.5"> platelets</tspan></text>
<text x="288.90" y="205.00" font-size="9.8" text-anchor="middle" font-weight="normal" transform="rotate(-90 288.90 205.00)">(% of control)</text>
<line x1="380.70" y1="175.00" x2="397.00" y2="175.00" stroke="#000" stroke-width="1.1"/>
<line x1="380.70" y1="172.00" x2="380.70" y2="178.00" stroke="#000" stroke-width="1.1"/>
<line x1="397.00" y1="172.00" x2="397.00" y2="178.00" stroke="#000" stroke-width="1.1"/>
<circle cx="386.80" cy="172.40" r="1.35" fill="#000" stroke="#000" stroke-width="0"/>
<circle cx="390.90" cy="172.40" r="1.35" fill="#000" stroke="#000" stroke-width="0"/>
<line x1="414.40" y1="175.20" x2="430.60" y2="175.20" stroke="#000" stroke-width="1.1"/>
<line x1="414.40" y1="172.20" x2="414.40" y2="178.20" stroke="#000" stroke-width="1.1"/>
<line x1="430.60" y1="172.20" x2="430.60" y2="178.20" stroke="#000" stroke-width="1.1"/>
<circle cx="418.40" cy="172.60" r="1.35" fill="#000" stroke="#000" stroke-width="0"/>
<circle cx="422.50" cy="172.60" r="1.35" fill="#000" stroke="#000" stroke-width="0"/>
<circle cx="426.60" cy="172.60" r="1.35" fill="#000" stroke="#000" stroke-width="0"/>
<rect x="453.65" y="176.05" width="12.40" height="3.90" fill="#fff" stroke="#000" stroke-width="1.1"/>
<rect x="453.10" y="186.10" width="14.00" height="5.40" fill="#000" stroke="#000" stroke-width="0"/>
<text x="467.90" y="180.80" font-size="7.4" text-anchor="start" font-weight="normal">IAV-Immune</text>
<text x="467.90" y="191.50" font-size="7.4" text-anchor="start" font-weight="normal">IAV-Naive</text>
</svg>
</body></html>
